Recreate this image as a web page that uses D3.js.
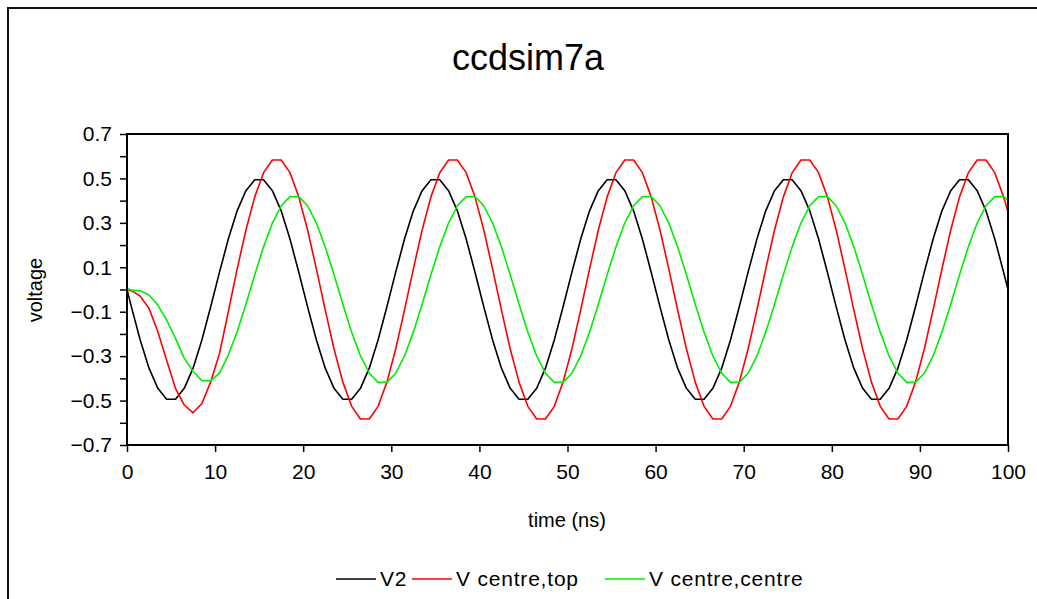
<!DOCTYPE html>
<html>
<head>
<meta charset="utf-8">
<script src="https://cdn.jsdelivr.net/npm/d3@7/dist/d3.min.js"></script>
<style>
  body { margin: 0; background: #fff; }
  svg { display: block; font-family: "Liberation Sans", Arial, sans-serif; }
</style>
</head>
<body>
<svg width="1037" height="599"></svg>
<script>
// time samples (ns)
const times = [0,0.5,1.5,2.5,3.5,4.5,5.5,6.5,7.5,8.5,9.5,10.5,11.5,12.5,13.5,14.5,15.5,16.5,17.5,18.5,19.5,
  20.5,21.5,22.5,23.5,24.5,25.5,26.5,27.5,28.5,29.5,30.5,31.5,32.5,33.5,34.5,35.5,36.5,37.5,38.5,39.5,
  40.5,41.5,42.5,43.5,44.5,45.5,46.5,47.5,48.5,49.5,50.5,51.5,52.5,53.5,54.5,55.5,56.5,57.5,58.5,59.5,
  60.5,61.5,62.5,63.5,64.5,65.5,66.5,67.5,68.5,69.5,70.5,71.5,72.5,73.5,74.5,75.5,76.5,77.5,78.5,79.5,
  80.5,81.5,82.5,83.5,84.5,85.5,86.5,87.5,88.5,89.5,90.5,91.5,92.5,93.5,94.5,95.5,96.5,97.5,98.5,99.5,100];

const v2 = [0,
  -0.078,-0.227,-0.354,-0.445,-0.494,-0.494,-0.445,-0.354,-0.227,-0.078,0.078,0.227,0.354,0.445,0.494,0.494,0.445,0.354,0.227,0.078,
  -0.078,-0.227,-0.354,-0.445,-0.494,-0.494,-0.445,-0.354,-0.227,-0.078,0.078,0.227,0.354,0.445,0.494,0.494,0.445,0.354,0.227,0.078,
  -0.078,-0.227,-0.354,-0.445,-0.494,-0.494,-0.445,-0.354,-0.227,-0.078,0.078,0.227,0.354,0.445,0.494,0.494,0.445,0.354,0.227,0.078,
  -0.078,-0.227,-0.354,-0.445,-0.494,-0.494,-0.445,-0.354,-0.227,-0.078,0.078,0.227,0.354,0.445,0.494,0.494,0.445,0.354,0.227,0.078,
  -0.078,-0.227,-0.354,-0.445,-0.494,-0.494,-0.445,-0.354,-0.227,-0.078,0.078,0.227,0.354,0.445,0.494,0.494,0.445,0.354,0.227,0.078,
  0];

const vCentreTop = [0,
  -0.005,-0.03,-0.085,-0.19,-0.318,-0.445,-0.52,-0.555,-0.513,-0.416,-0.288,-0.1,
  0.092,0.268,0.417,0.526,0.583,0.583,0.526,0.417,0.268,0.092,-0.092,-0.268,-0.417,-0.526,-0.583,-0.583,-0.526,-0.417,-0.268,-0.092,
  0.092,0.268,0.417,0.526,0.583,0.583,0.526,0.417,0.268,0.092,-0.092,-0.268,-0.417,-0.526,-0.583,-0.583,-0.526,-0.417,-0.268,-0.092,
  0.092,0.268,0.417,0.526,0.583,0.583,0.526,0.417,0.268,0.092,-0.092,-0.268,-0.417,-0.526,-0.583,-0.583,-0.526,-0.417,-0.268,-0.092,
  0.092,0.268,0.417,0.526,0.583,0.583,0.526,0.417,0.268,0.092,-0.092,-0.268,-0.417,-0.526,-0.583,-0.583,-0.526,-0.417,-0.268,-0.092,
  0.092,0.268,0.417,0.526,0.583,0.583,0.526,0.417,
  0.35];

const vCentreCentre = [0.005,
  -0.002,-0.006,-0.025,-0.07,-0.138,-0.22,-0.31,-0.368,-0.411,-0.411,-0.376,-0.295,-0.19,-0.066,
  0.066,0.192,0.299,0.377,0.418,0.418,0.377,0.299,0.192,0.066,-0.066,-0.192,-0.299,-0.377,-0.418,-0.418,-0.377,-0.299,-0.192,-0.066,
  0.066,0.192,0.299,0.377,0.418,0.418,0.377,0.299,0.192,0.066,-0.066,-0.192,-0.299,-0.377,-0.418,-0.418,-0.377,-0.299,-0.192,-0.066,
  0.066,0.192,0.299,0.377,0.418,0.418,0.377,0.299,0.192,0.066,-0.066,-0.192,-0.299,-0.377,-0.418,-0.418,-0.377,-0.299,-0.192,-0.066,
  0.066,0.192,0.299,0.377,0.418,0.418,0.377,0.299,0.192,0.066,-0.066,-0.192,-0.299,-0.377,-0.418,-0.418,-0.377,-0.299,-0.192,-0.066,
  0.066,0.192,0.299,0.377,0.418,0.418,
  0.402];

const seriesNames = ["V2", "V centre,top", "V centre,centre"];
const seriesColors = ["#000000", "#ff0000", "#00ee00"];
const xTicks = [0, 10, 20, 30, 40, 50, 60, 70, 80, 90, 100];
const yTicksMajor = [-0.7, -0.5, -0.3, -0.1, 0.1, 0.3, 0.5, 0.7];
const yTicksMinor = [-0.6, -0.4, -0.2, 0, 0.2, 0.4, 0.6];

const svg = d3.select("svg");

// outer chart border (runs off the right and bottom)
svg.append("rect")
  .attr("x", 8).attr("y", 8)
  .attr("width", 1200).attr("height", 800)
  .attr("fill", "none").attr("stroke", "#111").attr("stroke-width", 2);

const plotL = 127, plotR = 1008, plotT = 134, plotB = 445;

const x = d3.scaleLinear().domain([0, 100]).range([plotL, plotR]);
const y = d3.scaleLinear().domain([-0.7, 0.7]).range([plotB, plotT]);

svg.append("text")
  .attr("x", 528).attr("y", 70)
  .attr("text-anchor", "middle")
  .attr("font-size", 36)
  .text("ccdsim7a");

// series
const allSeries = [v2, vCentreTop, vCentreCentre];
const line = d3.line()
  .x((d, i) => x(times[i]))
  .y(d => y(d));

const plot = svg.append("g");
allSeries.forEach((vals, s) => {
  plot.append("path")
    .attr("d", line(vals))
    .attr("fill", "none")
    .attr("stroke", seriesColors[s])
    .attr("stroke-width", 1.6)
    .attr("stroke-linejoin", "round");
});

// frame
svg.append("rect")
  .attr("x", plotL).attr("y", plotT)
  .attr("width", plotR - plotL).attr("height", plotB - plotT)
  .attr("fill", "none").attr("stroke", "#000").attr("stroke-width", 2);

// axes
svg.append("g")
  .attr("transform", `translate(0,${plotB})`)
  .call(d3.axisBottom(x).tickValues(xTicks).tickSize(7).tickPadding(12).tickFormat(d3.format("d")));

svg.append("g")
  .attr("transform", `translate(${plotL},0)`)
  .call(d3.axisLeft(y).tickValues(yTicksMajor).tickSize(7).tickPadding(8).tickFormat(d3.format(".1f")));

svg.append("g")
  .attr("transform", `translate(${plotL},0)`)
  .call(d3.axisLeft(y).tickValues(yTicksMinor).tickSize(7).tickFormat(""));

svg.selectAll(".domain").remove();
svg.selectAll(".tick line").attr("stroke", "#000").attr("stroke-width", 1.5);
svg.selectAll(".tick text")
  .attr("font-size", 21)
  .attr("font-family", "Liberation Sans, Arial, sans-serif")
  .attr("fill", "#000");

// axis titles
svg.append("text")
  .attr("x", 567).attr("y", 527)
  .attr("text-anchor", "middle")
  .attr("font-size", 20)
  .text("time (ns)");

svg.append("text")
  .attr("transform", "translate(42,290) rotate(-90)")
  .attr("text-anchor", "middle")
  .attr("font-size", 20)
  .text("voltage");

// legend
const legendX = [336, 412, 605];
const legend = svg.append("g");
seriesNames.forEach((name, s) => {
  legend.append("line")
    .attr("x1", legendX[s]).attr("x2", legendX[s] + 40)
    .attr("y1", 579).attr("y2", 579)
    .attr("stroke", seriesColors[s]).attr("stroke-width", 1.6);
  legend.append("text")
    .attr("x", legendX[s] + 44).attr("y", 586)
    .attr("font-size", 21)
    .attr("letter-spacing", 0.8)
    .text(name);
});
</script>
</body>
</html>
